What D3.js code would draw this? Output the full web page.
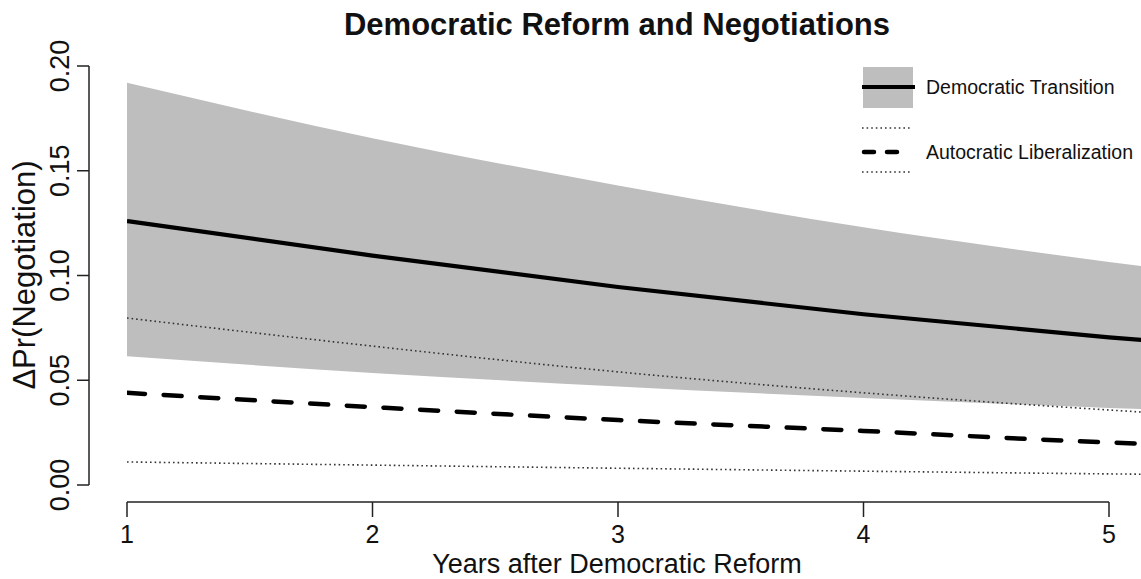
<!DOCTYPE html>
<html>
<head>
<meta charset="utf-8">
<script src="https://cdn.jsdelivr.net/npm/d3@7"></script>
<style>
  html, body { margin: 0; padding: 0; background: #fff; }
  svg { display: block; font-family: "Liberation Sans", Arial, sans-serif; }
</style>
</head>
<body>
<svg id="chart" width="1141" height="579"></svg>
<script>
// Years after reform and predicted change in Pr(Negotiation)
const years = [1, 2, 3, 4, 5, 6];

// Democratic transition: estimate with confidence band
const demEstimate = [0.126, 0.1095, 0.0945, 0.0815, 0.0705, 0.0610];
const demUpper    = [0.192, 0.1655, 0.1430, 0.1230, 0.1065, 0.0925];
const demLower    = [0.0615, 0.0535, 0.0470, 0.0415, 0.0368, 0.0328];

// Autocratic liberalization: estimate with dotted bounds
const autEstimate = [0.0440, 0.0372, 0.0310, 0.0258, 0.0203, 0.0168];
const autUpper    = [0.0797, 0.0663, 0.0540, 0.0440, 0.0358, 0.0290];
const autLower    = [0.0110, 0.0095, 0.0080, 0.0066, 0.0053, 0.0043];

const xTicks = [1, 2, 3, 4, 5];
const yTicks = [0.00, 0.05, 0.10, 0.15, 0.20];

const titleText = "Democratic Reform and Negotiations";
const xLabel = "Years after Democratic Reform";
const yLabel = "\u0394Pr(Negotiation)";
const legendLabels = ["Democratic Transition", "Autocratic Liberalization"];

const svg = d3.select("#chart");

// Plot area (the series run past the last tick and are clipped at the edge)
const plotLeft = 127, plotRight = 1141;
const x = d3.scaleLinear().domain([1, 5]).range([127, 1109]);
const y = d3.scaleLinear().domain([0, 0.2]).range([485, 66]);

svg.append("defs").append("clipPath").attr("id", "plotClip")
  .append("rect").attr("x", plotLeft).attr("y", 0)
  .attr("width", plotRight - plotLeft).attr("height", 500);

const g = svg.append("g").attr("clip-path", "url(#plotClip)");

const band = years.map((yr, i) => ({ yr, lo: demLower[i], hi: demUpper[i] }));
const curve = d3.curveMonotoneX;

g.append("path")
  .datum(band)
  .attr("fill", "#bebebe")
  .attr("d", d3.area().curve(curve).x(d => x(d.yr)).y0(d => y(d.lo)).y1(d => y(d.hi)));

const line = d3.line().curve(curve).x(d => x(d[0])).y(d => y(d[1]));
const pairs = arr => years.map((yr, i) => [yr, arr[i]]);

// Autocratic dotted bounds
[autUpper, autLower].forEach(arr => {
  g.append("path").datum(pairs(arr))
    .attr("fill", "none").attr("stroke", "#333")
    .attr("stroke-width", 1.6).attr("stroke-dasharray", "1.6 3")
    .attr("d", line);
});

// Autocratic estimate (dashed)
g.append("path").datum(pairs(autEstimate))
  .attr("fill", "none").attr("stroke", "#000")
  .attr("stroke-width", 4.5).attr("stroke-linecap", "round")
  .attr("stroke-dasharray", "18 18.7")
  .attr("d", line);

// Democratic estimate (solid)
g.append("path").datum(pairs(demEstimate))
  .attr("fill", "none").attr("stroke", "#000")
  .attr("stroke-width", 4.2)
  .attr("d", line);

// Axes
const axisColor = "#222";
const yAxis = svg.append("g").attr("transform", "translate(89,0)");
yAxis.append("line").attr("x1", 0).attr("x2", 0).attr("y1", y(0)).attr("y2", y(0.2))
  .attr("stroke", axisColor).attr("stroke-width", 1.5);
yTicks.forEach(t => {
  yAxis.append("line").attr("x1", -12).attr("x2", 0).attr("y1", y(t)).attr("y2", y(t))
    .attr("stroke", axisColor).attr("stroke-width", 1.5);
  yAxis.append("text")
    .attr("transform", `translate(-20,${y(t)}) rotate(-90)`)
    .attr("text-anchor", "middle")
    .attr("font-size", 27).attr("fill", "#111")
    .text(d3.format(".2f")(t));
});

const xAxis = svg.append("g").attr("transform", "translate(0,502)");
xAxis.append("line").attr("x1", x(1)).attr("x2", x(5)).attr("y1", 0).attr("y2", 0)
  .attr("stroke", axisColor).attr("stroke-width", 1.5);
xTicks.forEach(t => {
  xAxis.append("line").attr("x1", x(t)).attr("x2", x(t)).attr("y1", 0).attr("y2", 15)
    .attr("stroke", axisColor).attr("stroke-width", 1.5);
  xAxis.append("text")
    .attr("x", x(t)).attr("y", 41)
    .attr("text-anchor", "middle")
    .attr("font-size", 25).attr("fill", "#111")
    .text(t);
});

// Titles
svg.append("text").attr("x", 617).attr("y", 35)
  .attr("text-anchor", "middle").attr("font-size", 31).attr("font-weight", "bold")
  .attr("fill", "#111").text(titleText);

svg.append("text").attr("x", 617).attr("y", 572.5)
  .attr("text-anchor", "middle").attr("font-size", 27).attr("fill", "#111")
  .text(xLabel);

svg.append("text").attr("transform", "translate(35,275) rotate(-90)")
  .attr("text-anchor", "middle").attr("font-size", 31).attr("fill", "#111")
  .text(yLabel);

// Legend
const lg = svg.append("g");
lg.append("rect").attr("x", 863).attr("y", 67).attr("width", 50).attr("height", 41).attr("fill", "#bebebe");
lg.append("line").attr("x1", 862).attr("x2", 915).attr("y1", 87).attr("y2", 87)
  .attr("stroke", "#000").attr("stroke-width", 4.2);
lg.append("text").attr("x", 926).attr("y", 94).attr("font-size", 19.5).attr("fill", "#111")
  .text(legendLabels[0]);

lg.append("line").attr("x1", 862).attr("x2", 910).attr("y1", 128).attr("y2", 128)
  .attr("stroke", "#333").attr("stroke-width", 1.6).attr("stroke-dasharray", "1.6 3");
lg.append("line").attr("x1", 864).attr("x2", 898).attr("y1", 152).attr("y2", 152)
  .attr("stroke", "#000").attr("stroke-width", 4.5).attr("stroke-linecap", "round")
  .attr("stroke-dasharray", "10 13");
lg.append("text").attr("x", 926).attr("y", 159).attr("font-size", 19.5).attr("fill", "#111")
  .text(legendLabels[1]);
lg.append("line").attr("x1", 862).attr("x2", 910).attr("y1", 172).attr("y2", 172)
  .attr("stroke", "#333").attr("stroke-width", 1.6).attr("stroke-dasharray", "1.6 3");
</script>
</body>
</html>
